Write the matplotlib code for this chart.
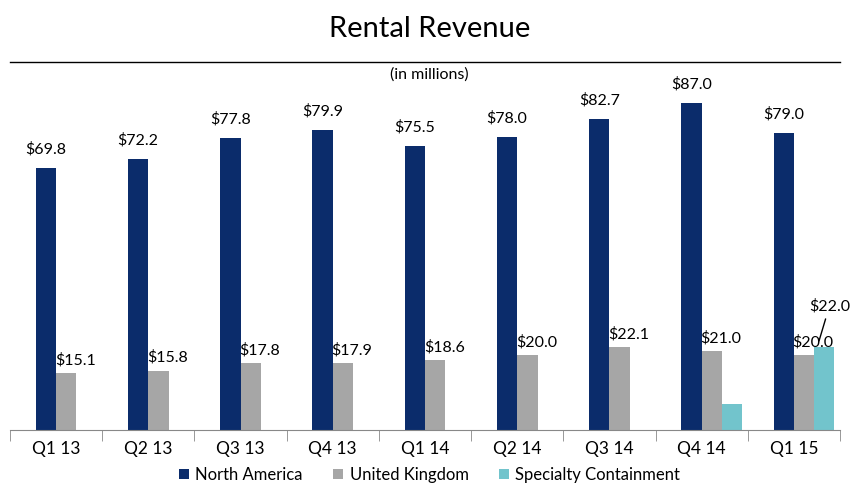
import numpy as np
import matplotlib.pyplot as plt
from matplotlib.lines import Line2D

plt.rcParams['font.family'] = ['Lato', 'DejaVu Sans']

quarters = ["Q1 13", "Q2 13", "Q3 13", "Q4 13", "Q1 14", "Q2 14", "Q3 14", "Q4 14", "Q1 15"]
north_america = [69.8, 72.2, 77.8, 79.9, 75.5, 78.0, 82.7, 87.0, 79.0]
united_kingdom = [15.1, 15.8, 17.8, 17.9, 18.6, 20.0, 22.1, 21.0, 20.0]
specialty = [0, 0, 0, 0, 0, 0, 0, 7.0, 22.0]

navy = "#0b2c6b"
grey = "#a6a6a6"
teal = "#72c4cc"

fig = plt.figure(figsize=(8.59, 4.88), dpi=100)
ax = fig.add_axes([10 / 859, 58 / 488, 830 / 859, 368 / 488])

x = np.arange(len(quarters))
w = 0.22
ax.bar(x - w / 2, north_america, w, color=navy, label="North America")
ax.bar(x + w / 2, united_kingdom, w, color=grey, label="United Kingdom")
ax.bar(x + 1.5 * w, specialty, w, color=teal, label="Specialty Containment")

for i in range(len(quarters)):
    ax.text(x[i] - w / 2, north_america[i] + 3, f"${north_america[i]:.1f}",
            ha="center", va="bottom", fontsize=11.5)
    ax.text(x[i] + w / 2 + 0.1, united_kingdom[i] + 1.5, f"${united_kingdom[i]:.1f}",
            ha="center", va="bottom", fontsize=11.5)
# specialty label with leader line
ax.annotate(f"${specialty[-1]:.1f}", xy=(x[-1] + 1.2 * w, specialty[-1] + 1),
            xytext=(x[-1] + 1.75 * w, specialty[-1] + 9), ha="center", va="bottom",
            fontsize=11.5, arrowprops=dict(arrowstyle="-", color="black", lw=1))

ax.set_xlim(-0.5, len(quarters) - 0.5)
ax.set_ylim(0, 97.9)
ax.set_yticks([])
ax.set_xticks(x)
ax.set_xticklabels(quarters, fontsize=12.5)
ax.tick_params(axis="x", length=0, pad=8)
ax.set_xticks(np.arange(-0.5, len(quarters)), minor=True)
ax.tick_params(axis="x", which="minor", length=8, color="#888888", direction="out")
for s in ["top", "left", "right"]:
    ax.spines[s].set_visible(False)
ax.spines["bottom"].set_color("#888888")

fig.text(0.5, 0.94, "Rental Revenue", ha="center", va="center", fontsize=21)
fig.add_artist(Line2D([10 / 859, 840 / 859], [426 / 488, 426 / 488], color="black", lw=1))
fig.text(0.5, 0.848, "(in millions)", ha="center", va="center", fontsize=11.5)

fig.legend(loc="lower center", bbox_to_anchor=(0.5, -0.02), ncol=3, frameon=False,
           fontsize=12, handlelength=0.6, handleheight=0.6, columnspacing=1.8, handletextpad=0.4)

fig.savefig("out.png", dpi=100)
